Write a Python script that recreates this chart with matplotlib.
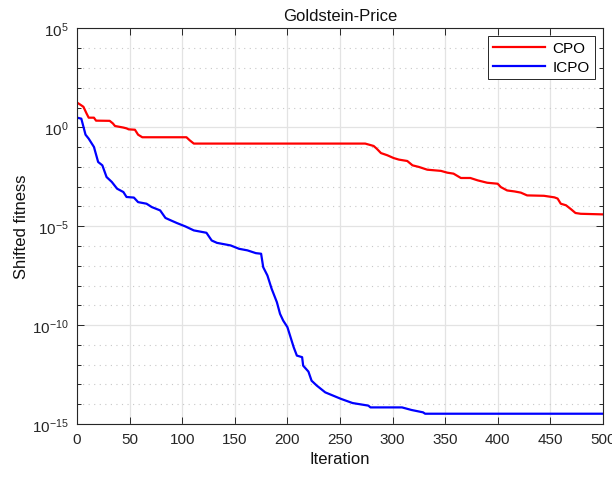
import matplotlib
matplotlib.use("Agg")
import matplotlib.pyplot as plt
import numpy as np
from matplotlib.ticker import FixedLocator, NullFormatter

plt.rcParams["font.family"] = ["Liberation Sans Narrow", "Liberation Sans", "DejaVu Sans"]

# ─── Data (exponents of shifted fitness) ─────────────────────────────────────

cpo_iter = [0, 3, 6, 9, 11, 16, 18, 31, 34, 36, 44, 47, 49, 55, 58, 62, 104, 107,
            111, 274, 282, 285, 289, 295, 301, 306, 314, 319, 325, 333, 346, 352,
            358, 365, 374, 381, 390, 400, 403, 409, 416, 422, 428, 444, 454, 457,
            460, 465, 470, 474, 479, 500]
cpo_exp = [1.25, 1.15, 1.04, 0.7, 0.49, 0.49, 0.34, 0.33, 0.2, 0.07, -0.01, -0.05,
           -0.1, -0.12, -0.37, -0.5, -0.5, -0.65, -0.82, -0.82, -0.94, -1.08, -1.3,
           -1.41, -1.55, -1.63, -1.7, -1.92, -2.0, -2.14, -2.2, -2.29, -2.34, -2.56,
           -2.56, -2.68, -2.8, -2.85, -3.02, -3.19, -3.24, -3.3, -3.44, -3.46, -3.54,
           -3.6, -3.86, -3.94, -4.15, -4.33, -4.37, -4.4]

icpo_iter = [0, 4, 8, 11, 16, 20, 24, 28, 33, 38, 44, 47, 54, 58, 66, 71, 79, 84,
             89, 95, 103, 111, 123, 128, 133, 146, 154, 162, 170, 175, 177, 181,
             185, 190, 193, 196, 200, 203, 206, 209, 214, 215, 220, 223, 228, 236,
             251, 262, 277, 279, 309, 318, 329, 331, 500]
icpo_exp = [0.49, 0.44, -0.37, -0.57, -0.99, -1.75, -1.92, -2.51, -2.76, -3.1,
            -3.27, -3.52, -3.55, -3.78, -3.86, -4.03, -4.2, -4.58, -4.7, -4.84,
            -5.01, -5.21, -5.33, -5.72, -5.84, -5.97, -6.14, -6.22, -6.36, -6.39,
            -7.07, -7.49, -8.16, -8.84, -9.43, -9.77, -10.1, -10.61, -11.12, -11.54,
            -11.62, -12.05, -12.35, -12.81, -13.06, -13.4, -13.73, -13.94, -14.07,
            -14.16, -14.16, -14.29, -14.41, -14.48, -14.48]

x_ticks = [0, 50, 100, 150, 200, 250, 300, 350, 400, 450, 500]
y_major = [1e-15, 1e-10, 1e-5, 1e0, 1e5]

# ─── Figure ──────────────────────────────────────────────────────────────────

fig = plt.figure(figsize=(6.12, 4.81), dpi=100)
ax = fig.add_axes([0.126, 0.1164, 0.859, 0.8223])

ax.semilogy(cpo_iter, 10.0 ** np.array(cpo_exp), color="#ff0000", lw=1.6, label="CPO")
ax.semilogy(icpo_iter, 10.0 ** np.array(icpo_exp), color="#0000ff", lw=1.6, label="ICPO")

ax.set_xlim(0, 500)
ax.set_ylim(1e-15, 1e5)
ax.set_xticks(x_ticks)
ax.yaxis.set_major_locator(FixedLocator(y_major))
ax.yaxis.set_minor_locator(FixedLocator([10.0 ** k for k in range(-15, 6)]))
ax.yaxis.set_minor_formatter(NullFormatter())

ax.grid(True, which="major", color="#e3e3e3", lw=0.9, ls="-")
ax.grid(True, which="minor", axis="y", color="#c8c8c8", lw=0.8, ls=(0, (1, 4)))
ax.set_axisbelow(True)

for s in ax.spines.values():
    s.set_color("#262626")
    s.set_linewidth(0.8)
ax.tick_params(which="both", direction="in", top=True, right=True, colors="#262626",
               labelcolor="#262626", labelsize=11, width=0.7)
ax.tick_params(which="major", length=5)
ax.tick_params(which="minor", length=3)
ax.tick_params(axis="x", pad=6)
ax.tick_params(axis="y", pad=6)

ax.set_title("Goldstein-Price", fontsize=12, color="#111111", pad=6)
ax.set_xlabel("Iteration", fontsize=12, color="#111111", labelpad=3)
ax.set_ylabel("Shifted fitness", fontsize=12, color="#111111", labelpad=2)

leg = ax.legend(loc="upper right", fontsize=11, fancybox=False, framealpha=1,
                edgecolor="#262626", handlelength=3.4, borderaxespad=0.5,
                borderpad=0.35, labelspacing=0.3, handletextpad=0.5)
leg.get_frame().set_linewidth(0.7)

fig.savefig("out.png", dpi=100)
